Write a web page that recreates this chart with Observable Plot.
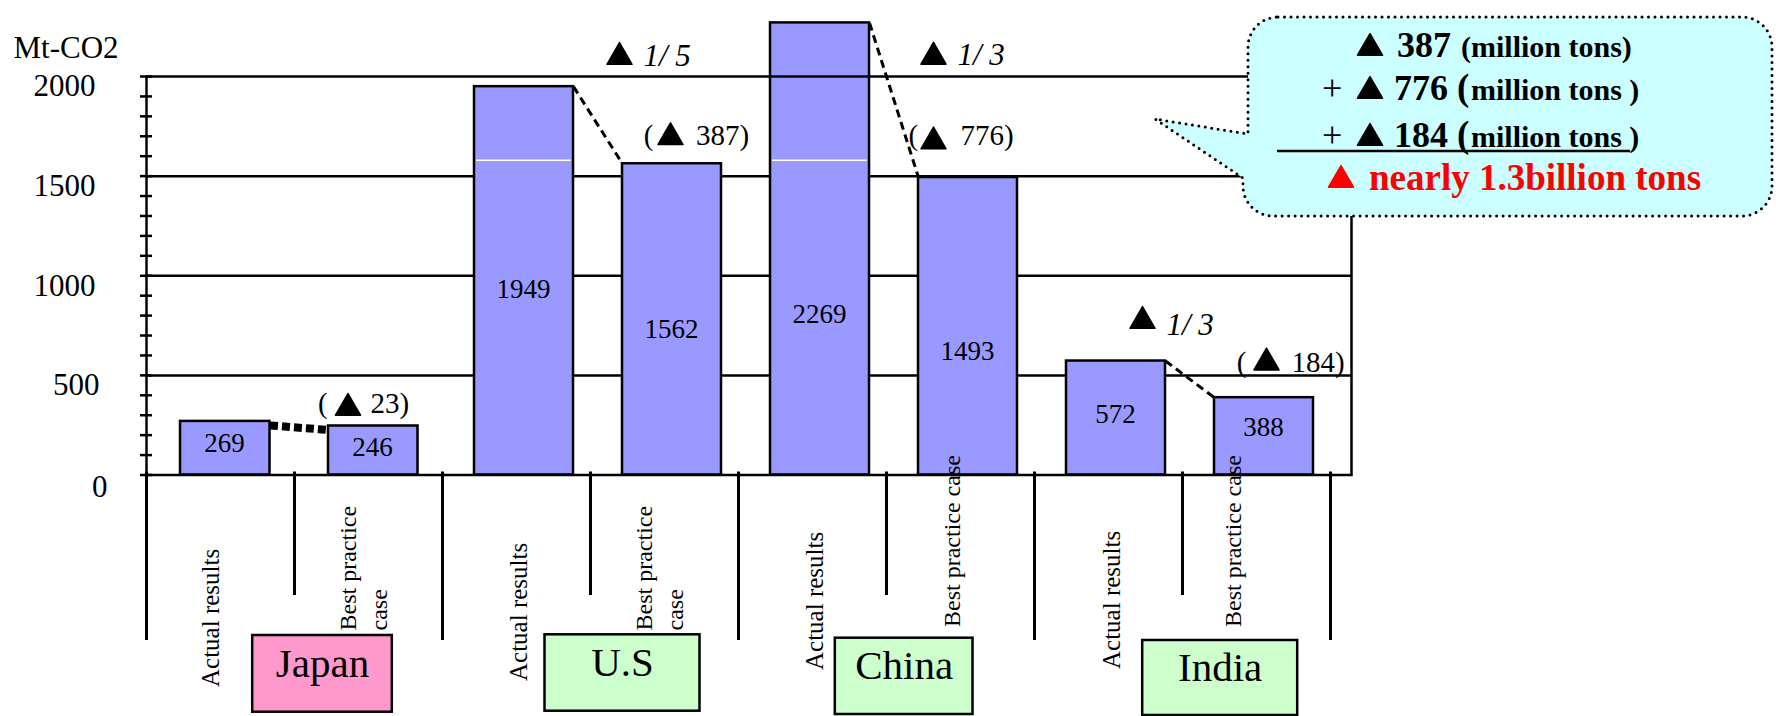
<!DOCTYPE html>
<html>
<head>
<meta charset="utf-8">
<script src="https://cdn.jsdelivr.net/npm/d3@7"></script>
<script src="https://cdn.jsdelivr.net/npm/@observablehq/plot@0.6"></script>
<style>
  html, body { margin: 0; padding: 0; background: #fff; }
  #wrap { position: relative; width: 1776px; height: 716px; overflow: hidden; }
  #bubble { position: absolute; left: 0; top: 0; pointer-events: none; }
</style>
</head>
<body>
<div id="wrap"></div>
<script>
// ---------------- data ----------------
const countries = ["Japan", "U.S", "China", "India"];
const caseNames = ["Actual results", "Best practice case"];
const actualValues = [269, 1949, 2269, 572];
const bestValues = [246, 1562, 1493, 388];
const reductionValues = [23, 387, 776, 184];
const ratioLabels = [null, "1/ 5", "1/ 3", "1/ 3"];
const bestTickLabels = ["Best practice\ncase", "Best practice\ncase", "Best practice case", "Best practice case"];
const yTicks = [0, 500, 1000, 1500, 2000];
const yMinorStep = 100;
const yTitle = "Mt-CO2";
const whiteLineValue = 1580;
const bubbleAmounts = [387, 776, 184];
const bubbleUnit = "million tons";
const bubbleTotal = "nearly 1.3billion tons";

// ---------------- tables built from data ----------------
const bars = countries.flatMap((c, i) => [
  {country: c, kind: "actual", key: c + "|A", value: actualValues[i]},
  {country: c, kind: "best", key: c + "|B", value: bestValues[i]}
]);
const keys = bars.map(d => d.key);
const pairs = countries.map((c, i) => ({
  country: c, a: c + "|A", b: c + "|B",
  va: actualValues[i], vb: bestValues[i],
  red: reductionValues[i], ratio: ratioLabels[i], bestLabel: bestTickLabels[i]
}));

// ---------------- style / layout ----------------
const W = 1776, H = 716;
const M = {top: 76, right: 425, bottom: 241.5, left: 146};
const frameH = H - M.top - M.bottom;
const INK = "black";
const FONT = "'Liberation Serif', 'Times New Roman', serif";
const barFill = "#9999ff";
const barInsets = {std: [32, 17], Japan: [34, 24.5]};
const insetsOf = c => barInsets[c] || barInsets.std;
const TRI_R = 9.3;
// pixel nudges for labels (styling)
const valueNudge = {"Japan|A": -5, "Japan|B": -3, "U.S|A": 9, "U.S|B": 10, "China|A": 65, "China|B": 25, "India|A": -4, "India|B": -9};
const reductionNudge = {
  Japan: {open: -50.5, tri: -20.5, val: 2, dy: -22, triDy: -18},
  "U.S": {open: -20.7, tri: 6, val: 31.5, dy: -28, triDy: -26.5},
  China: {open: -52, tri: -27, val: 0, dy: -42, triDy: -36},
  India: {open: -19.75, tri: 10, val: 35, dy: -35, triDy: -35}
};
const ratioNudge = {
  "U.S": {tri: -45, triDy: -29.6, txt: -21, dy: -31},
  China: {tri: -27, triDy: 34, txt: -3, dy: 32.6},
  India: {tri: -114, triDy: -40, txt: -90, dy: -35.5}
};
const actualLabelNudge = {Japan: [-10, 212], "U.S": [2, 206], China: [2.5, 195], India: [3.5, 194]};
const bestLabelNudge = {Japan: [-7, 155.5], "U.S": [-7, 155.5], China: [-10, 152], India: [-25, 152]};
// country boxes: left/right relative to start of best band, top/bottom in px below axis
const boxNudge = {
  Japan: {l: -41.8, r: 97.8, t: 160.5, b: 237.2, fill: "#ff99cc"},
  "U.S": {l: -45.5, r: 109.5, t: 159.8, b: 236.2, fill: "#ccffcc"},
  China: {l: -51.2, r: 86.5, t: 163.2, b: 239.5, fill: "#ccffcc"},
  India: {l: -39.8, r: 115.2, t: 165.5, b: 240.5, fill: "#ccffcc"}
};

function connector(data, opts) {
  return Plot.link(data, {
    x1: "a", y1: "va", x2: "b", y2: "vb", ...opts,
    render(index, scales, values, dims, ctx, next) {
      const half = scales.x.bandwidth() / 2;
      const X1 = Array.from(values.x1), X2 = Array.from(values.x2);
      for (const i of index) {
        X1[i] = values.x1[i] + half - insetsOf(data[i].country)[1];
        X2[i] = values.x2[i] - half + insetsOf(data[i].country)[0];
      }
      return next(index, scales, {...values, x1: X1, x2: X2}, dims, ctx);
    }
  });
}

function triangle(data, opts) {
  return Plot.dot(data, {symbol: "triangle", r: TRI_R, fill: INK, stroke: INK, strokeWidth: 1.5, strokeLinejoin: "round", ...opts});
}

function build(bw) {
  const marks = [];
  marks.push(Plot.ruleY(yTicks.filter(v => v > 0 && v < 2000), {stroke: INK, strokeWidth: 2.5}));
  for (const grp of [bars.filter(d => d.country !== "Japan"), bars.filter(d => d.country === "Japan")]) {
    const [l, r] = insetsOf(grp[0].country);
    marks.push(Plot.barY(grp, {x: "key", y: "value", fill: barFill, stroke: INK, strokeWidth: 2.5, insetLeft: l, insetRight: r}));
  }
  marks.push(Plot.tickY(bars.filter(d => d.value > whiteLineValue), {
    x: "key", y: () => whiteLineValue, stroke: "white", strokeWidth: 1.5, insetLeft: 34, insetRight: 19
  }));
  marks.push(Plot.frame({stroke: INK, strokeWidth: 2.5}));
  marks.push(Plot.axisY({ticks: d3.range(0, 2001, yMinorStep), tickSize: 12, dx: 6, tickFormat: () => "", strokeWidth: 2.5, label: null}));
  marks.push(Plot.axisY({ticks: yTicks.filter(v => v >= 1000), tickSize: 0, tickPadding: 51, tickFormat: d => String(d), fontSize: 31, dy: 10, label: null}));
  marks.push(Plot.axisY({ticks: [yTicks[1]], tickSize: 0, tickPadding: 47, tickFormat: d => String(d), fontSize: 31, dy: 10, label: null}));
  marks.push(Plot.axisY({ticks: [yTicks[0]], tickSize: 0, tickPadding: 39, tickFormat: d => String(d), fontSize: 31, dy: 12, label: null}));
  marks.push(Plot.text([yTitle], {text: d => d, frameAnchor: "top-left", dx: -133, dy: -28, textAnchor: "start", lineAnchor: "middle", fontSize: 31}));
  marks.push(connector(pairs.filter(p => p.country !== "Japan"), {stroke: INK, strokeWidth: 3, strokeDasharray: "8,5"}));
  marks.push(connector(pairs.filter(p => p.country === "Japan"), {stroke: INK, strokeWidth: 8, strokeDasharray: "8,4", dy: 4}));
  for (const d of bars) {
    marks.push(Plot.text([d], {x: "key", y: v => v.value / 2, text: v => String(v.value), dx: d.country === "Japan" ? 4 : 7, dy: valueNudge[d.key], fontSize: 27, lineAnchor: "middle"}));
  }
  for (const p of pairs) {
    const n = reductionNudge[p.country];
    marks.push(Plot.text([p], {x: "b", y: "vb", text: () => "(", dx: n.open, dy: n.dy, textAnchor: "start", fontSize: 29, lineAnchor: "middle"}));
    marks.push(triangle([p], {x: "b", y: "vb", dx: n.tri, dy: n.triDy}));
    marks.push(Plot.text([p], {x: "b", y: "vb", text: d => `${d.red})`, dx: n.val, dy: n.dy, textAnchor: "start", fontSize: 29, lineAnchor: "middle"}));
  }
  for (const p of pairs.filter(p => p.ratio)) {
    const n = ratioNudge[p.country];
    marks.push(triangle([p], {x: "b", y: "va", dx: n.tri, dy: n.triDy}));
    marks.push(Plot.text([p], {x: "b", y: "va", text: "ratio", dx: n.txt, dy: n.dy, fontSize: 31, fontStyle: "italic", textAnchor: "start", lineAnchor: "middle"}));
  }
  marks.push(Plot.ruleX(pairs, {x: "a", dx: -bw / 2, stroke: INK, strokeWidth: 3, insetTop: frameH - 3, insetBottom: -165.5}));
  marks.push(Plot.ruleX(pairs.slice(-1), {x: "b", dx: bw / 2, stroke: INK, strokeWidth: 3, insetTop: frameH - 3, insetBottom: -165.5}));
  marks.push(Plot.ruleX(pairs, {x: "b", dx: -bw / 2, stroke: INK, strokeWidth: 3, insetTop: frameH - 3, insetBottom: -120.5}));
  for (const p of pairs) {
    const [ax, ay] = actualLabelNudge[p.country];
    marks.push(Plot.text([p], {x: "a", text: () => caseNames[0], frameAnchor: "bottom", rotate: -90, textAnchor: "start", lineAnchor: "middle", dx: ax, dy: ay, fontSize: 25}));
    const [bx, by] = bestLabelNudge[p.country];
    marks.push(Plot.text([p], {x: "b", text: "bestLabel", frameAnchor: "bottom", rotate: -90, textAnchor: "start", lineAnchor: "middle", lineHeight: 1.3, dx: bx, dy: by, fontSize: 24}));
    const b = boxNudge[p.country];
    marks.push(Plot.barY([p], {x: "b", y1: () => 0, y2: () => 0, insetLeft: b.l, insetRight: bw - b.r, insetTop: b.t, insetBottom: -b.b, fill: b.fill, stroke: INK, strokeWidth: 2.5}));
    marks.push(Plot.text([p], {x: "b", text: "country", frameAnchor: "bottom", dx: -bw / 2 + (b.l + b.r) / 2, dy: (b.t + b.b) / 2 - 10, fontSize: 41, lineAnchor: "middle"}));
  }

  return Plot.plot({
    width: W, height: H,
    marginTop: M.top, marginRight: M.right, marginBottom: M.bottom, marginLeft: M.left,
    style: {fontFamily: FONT, fontSize: "24px", overflow: "visible", background: "white", color: "black"},
    x: {type: "band", domain: keys, paddingInner: 0, paddingOuter: 0.057, align: 0, axis: null},
    y: {domain: [0, 2000]},
    marks
  });
}

const pre = build(148.5);
const bw = pre.scale("x").bandwidth;
const chart = build(bw);
const wrap = document.getElementById("wrap");
wrap.appendChild(chart);

// ---------------- callout bubble (annotation) ----------------
const ov = d3.select(wrap).append("svg").attr("id", "bubble").attr("width", W).attr("height", H)
  .style("font-family", FONT);
const B = {x0: 1248, x0b: 1243, x1: 1772, y0: 17, y1: 216, r: 30, tip: [1155, 119], baseTop: 134, baseBottom: 178};
const p = d3.path();
p.moveTo(B.x0 + B.r, B.y0);
p.lineTo(B.x1 - B.r, B.y0);
p.arcTo(B.x1, B.y0, B.x1, B.y0 + B.r, B.r);
p.lineTo(B.x1, B.y1 - B.r);
p.arcTo(B.x1, B.y1, B.x1 - B.r, B.y1, B.r);
p.lineTo(B.x0b + B.r, B.y1);
p.arcTo(B.x0b, B.y1, B.x0b, B.y1 - B.r, B.r);
p.lineTo(B.x0b, B.baseBottom);
p.lineTo(B.tip[0], B.tip[1]);
p.lineTo(B.x0, B.baseTop);
p.lineTo(B.x0, B.y0 + B.r);
p.arcTo(B.x0, B.y0, B.x0 + B.r, B.y0, B.r);
p.closePath();
ov.append("path").attr("d", p.toString()).attr("fill", "#ccffff").attr("stroke", "black")
  .attr("stroke-width", 3).attr("stroke-dasharray", "0 6.5").attr("stroke-linecap", "round");

function t(x, y, str, size, opt = {}) {
  ov.append("text").attr("x", x).attr("y", y).attr("font-size", size)
    .attr("font-weight", opt.weight || "bold").attr("fill", opt.fill || "black").text(str);
}
const triPath = d3.symbol(d3.symbolTriangle, Math.PI * TRI_R * TRI_R)();
function tri(x, y, fill) {
  ov.append("path").attr("d", triPath).attr("transform", `translate(${x},${y})`)
    .attr("fill", fill).attr("stroke", fill).attr("stroke-width", 1.5).attr("stroke-linejoin", "round");
}
const rows = [57, 100, 147];
bubbleAmounts.forEach((v, i) => {
  const y = rows[i];
  if (i > 0) t(1322, y, "+", 36, {weight: "normal"});
  tri(1370, y - 9, "black");
  t(i === 0 ? 1397 : 1394, y, String(v), 36);
  if (i === 0) t(1461, y, `(${bubbleUnit})`, 30);
  else { t(1457, y, "(", 37); t(1471, y, `${bubbleUnit} )`, 30); }
});
ov.append("line").attr("x1", 1277).attr("x2", 1630).attr("y1", 151).attr("y2", 151).attr("stroke", "black").attr("stroke-width", 2.5);
tri(1341, 180, "#ff0000");
t(1369, 190, bubbleTotal, 37, {fill: "#ff0000"});
</script>
</body>
</html>
